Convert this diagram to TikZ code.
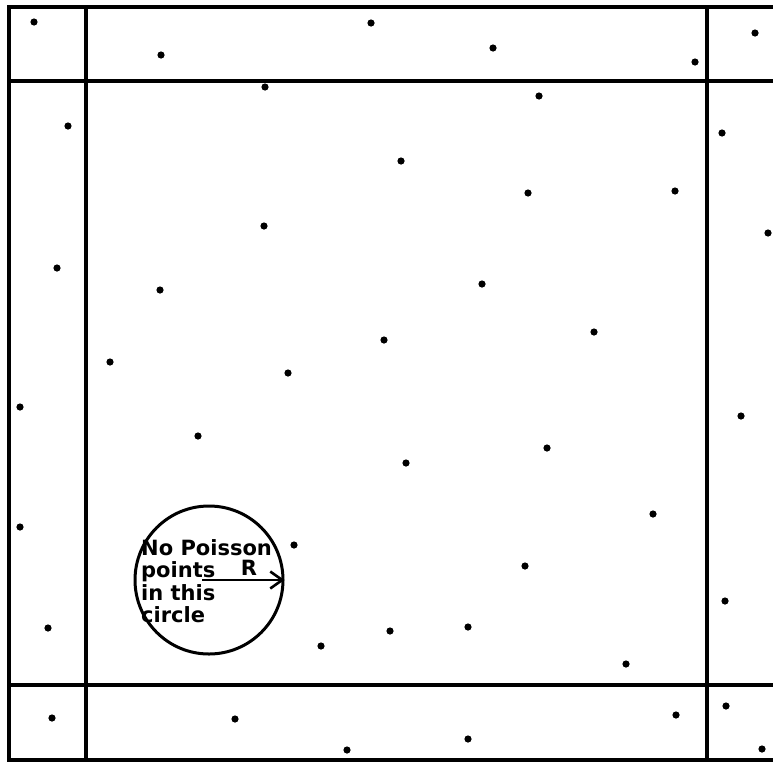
\documentclass[tikz,border=0pt]{standalone}
\usepackage{fontspec}
\usepackage{tikz}
\usetikzlibrary{positioning,arrows.meta}
\newfontfamily\plotfont{DejaVu Sans}

\begin{document}
\begin{tikzpicture}[x=1pt,y=-1pt,
      frame/.style={line width=3.2pt},
      pdot/.style={fill=black},
      every node/.style={font=\plotfont\bfseries\fontsize{21}{22.5}\selectfont}]
      \useasboundingbox (0,0) rectangle (773,761);
      % Outer boundary (open on the right)
      \draw[frame] (773,7) -- (9,7) -- (9,760) -- (773,760);
      % Window edges
      \draw[frame] (86,7) -- (86,760);
      \draw[frame] (707,7) -- (707,760);
      \draw[frame] (9,81) -- (773,81);
      \draw[frame] (9,685) -- (773,685);
      % Poisson points, border strips
      \foreach \p in {(34,22),(161,55),(371,23),(493,48),(695,62),(755,33),
                      (68,126),(57,268),(20,407),(20,527),(48,628),
                      (722,133),(768,233),(741,416),(725,601),
                      (52,718),(235,719),(347,750),(468,739),(676,715),(726,706),(762,749)} {
         \fill[pdot] \p circle (3.6pt);
      }
      % Poisson points, window
      \foreach \p in {(265,87),(539,96),(401,161),(528,193),(675,191),(264,226),
                      (160,290),(482,284),(594,332),(384,340),(110,362),(288,373),
                      (198,436),(547,448),(406,463),(653,514),(294,545),(525,566),
                      (321,646),(390,631),(468,627),(626,664)} {
         \fill[pdot] \p circle (3.6pt);
      }
      % Empty circle of radius R
      \node[circle,draw,line width=3pt,minimum size=148pt,inner sep=0pt] (hole) at (209,580) {};
      \coordinate (rstart) at (202,580);
      \draw[line width=2.6pt,-{Straight Barb[length=12pt,width=17pt,line width=2.6pt]}] (rstart) -- (hole.east);
      \node[anchor=base] (rlabel) at (249,575) {R};
      % Label inside the circle
      \node[anchor=north west,align=left,inner sep=0pt] (note) at (141,539)
         {No Poisson\\points\\in this\\circle};
    \end{tikzpicture}
\end{document}
